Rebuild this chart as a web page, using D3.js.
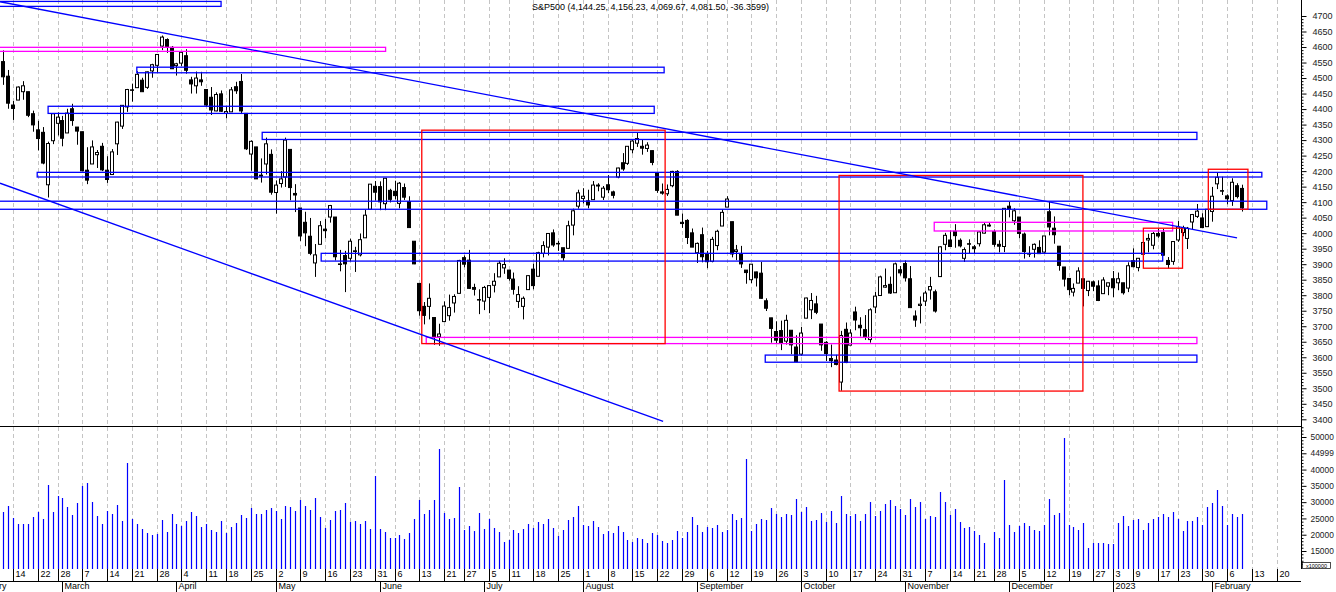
<!DOCTYPE html>
<html>
<head>
<meta charset="utf-8">
<script src="https://cdn.jsdelivr.net/npm/d3@7"></script>
<style>
  body { margin: 0; background: #fff; }
  svg { display: block; font-family: "Liberation Sans", Arial, sans-serif; }
</style>
</head>
<body>
<svg id="chart" width="1336" height="592"></svg>
<script>
// ---- data ----
var title = "S&P500 (4,144.25, 4,156.23, 4,069.67, 4,081.50, -36.3599)";
var volumeUnit = "x100000";

// trading sessions, month by month
var tradingDays = [
  ["2022-02", [10,11,14,15,16,17,18,22,23,24,25,28]],
  ["2022-03", [1,2,3,4,7,8,9,10,11,14,15,16,17,18,21,22,23,24,25,28,29,30,31]],
  ["2022-04", [1,4,5,6,7,8,11,12,13,14,18,19,20,21,22,25,26,27,28,29]],
  ["2022-05", [2,3,4,5,6,9,10,11,12,13,16,17,18,19,20,23,24,25,26,27,31]],
  ["2022-06", [1,2,3,6,7,8,9,10,13,14,15,16,17,21,22,23,24,27,28,29,30]],
  ["2022-07", [1,5,6,7,8,11,12,13,14,15,18,19,20,21,22,25,26,27,28,29]],
  ["2022-08", [1,2,3,4,5,8,9,10,11,12,15,16,17,18,19,22,23,24,25,26,29,30,31]],
  ["2022-09", [1,2,6,7,8,9,12,13,14,15,16,19,20,21,22,23,26,27,28,29,30]],
  ["2022-10", [3,4,5,6,7,10,11,12,13,14,17,18,19,20,21,24,25,26,27,28,31]],
  ["2022-11", [1,2,3,4,7,8,9,10,11,14,15,16,17,18,21,22,23,25,28,29,30]],
  ["2022-12", [1,2,5,6,7,8,9,12,13,14,15,16,19,20,21,22,23,27,28,29,30]],
  ["2023-01", [3,4,5,6,9,10,11,12,13,17,18,19,20,23,24,25,26,27,30,31]],
  ["2023-02", [1,2,3,6,7,8,9]]
];

// [open, high, low, close] per session
var ohlc = [
  // 2022-02
  [4553,4589,4478,4504],[4506,4526,4401,4419],[4413,4426,4365,4402],[4429,4473,4429,4471],[4456,4490,4430,4475],[4456,4456,4374,4380],[4385,4395,4327,4349],[4333,4362,4267,4305],[4325,4342,4222,4226],[4156,4295,4115,4289],[4298,4385,4287,4385],[4354,4389,4315,4374],
  // 2022-03
  [4363,4378,4280,4306],[4323,4401,4323,4387],[4401,4417,4346,4363],[4342,4342,4285,4329],[4327,4327,4200,4201],[4203,4277,4158,4171],[4223,4299,4223,4278],[4253,4268,4210,4260],[4280,4291,4200,4204],[4203,4248,4162,4173],[4189,4271,4188,4262],[4288,4359,4252,4358],[4345,4413,4336,4412],[4407,4465,4391,4463],[4462,4482,4424,4461],[4469,4522,4469,4512],[4493,4501,4456,4456],[4470,4521,4465,4520],[4523,4546,4501,4543],[4541,4576,4518,4576],[4603,4637,4590,4632],[4624,4628,4581,4602],[4599,4603,4530,4530],
  // 2022-04
  [4540,4549,4508,4546],[4548,4584,4539,4583],[4572,4593,4514,4525],[4494,4504,4450,4481],[4475,4521,4450,4500],[4494,4520,4475,4488],[4463,4464,4408,4413],[4438,4471,4381,4397],[4394,4454,4393,4447],[4449,4460,4391,4393],[4386,4410,4370,4392],[4391,4471,4391,4462],[4472,4488,4449,4459],[4489,4513,4384,4394],[4386,4386,4268,4272],[4255,4299,4201,4296],[4278,4278,4175,4175],[4187,4241,4163,4184],[4223,4308,4189,4288],[4254,4270,4124,4132],
  // 2022-05
  [4131,4170,4063,4155],[4160,4200,4147,4175],[4181,4308,4149,4300],[4270,4270,4106,4147],[4128,4158,4068,4123],[4081,4081,3975,3991],[4035,4069,3958,4001],[3990,4049,3929,3935],[3904,3965,3859,3930],[3964,4039,3964,4024],[4013,4046,3984,4008],[4052,4091,4034,4089],[4052,4052,3912,3924],[3899,3946,3877,3901],[3928,3943,3810,3901],[3919,3982,3909,3974],[3943,3956,3875,3941],[3930,3999,3925,3979],[3985,4075,3985,4058],[4077,4158,4077,4158],[4151,4168,4105,4132],
  // 2022-06
  [4150,4167,4074,4101],[4095,4178,4074,4177],[4138,4143,4099,4109],[4135,4169,4109,4121],[4096,4165,4080,4161],[4147,4160,4107,4116],[4102,4119,4017,4018],[3974,3974,3900,3901],[3838,3838,3734,3750],[3764,3778,3706,3735],[3764,3838,3722,3790],[3728,3728,3640,3667],[3666,3708,3637,3675],[3715,3780,3715,3765],[3734,3802,3718,3760],[3775,3803,3744,3796],[3806,3914,3806,3912],[3921,3928,3890,3900],[3913,3946,3820,3822],[3825,3837,3799,3819],[3786,3819,3739,3785],
  // 2022-07
  [3781,3830,3752,3825],[3793,3832,3742,3831],[3832,3871,3809,3845],[3859,3911,3859,3903],[3888,3919,3869,3899],[3881,3881,3847,3854],[3852,3873,3802,3819],[3780,3829,3759,3802],[3764,3796,3722,3790],[3818,3864,3817,3863],[3884,3902,3819,3831],[3861,3940,3861,3937],[3935,3974,3922,3960],[3955,3999,3928,3999],[4001,4012,3956,3962],[3966,3975,3943,3967],[3953,3953,3911,3921],[3951,4040,3951,4024],[4026,4079,3993,4072],[4087,4140,4079,4130],
  // 2022-08
  [4112,4145,4096,4119],[4104,4140,4080,4091],[4108,4168,4108,4155],[4155,4161,4135,4152],[4116,4152,4107,4145],[4156,4187,4129,4140],[4133,4137,4112,4122],[4181,4211,4177,4210],[4227,4258,4201,4207],[4225,4280,4220,4280],[4269,4302,4257,4297],[4290,4325,4278,4305],[4280,4302,4253,4274],[4273,4293,4262,4284],[4266,4266,4219,4228],[4195,4195,4130,4138],[4133,4160,4124,4129],[4127,4157,4120,4141],[4153,4201,4148,4199],[4199,4203,4058,4058],[4035,4063,4017,4031],[4041,4045,3965,3986],[4001,4015,3955,3955],
  // 2022-09
  [3937,3970,3904,3967],[3995,4018,3906,3924],[3931,3943,3887,3908],[3909,3988,3906,3980],[3960,4011,3945,4006],[4023,4077,4023,4067],[4084,4119,4084,4110],[4037,4037,3922,3933],[3941,3962,3913,3946],[3932,3959,3888,3901],[3881,3881,3837,3873],[3850,3900,3839,3900],[3875,3876,3828,3856],[3871,3907,3789,3790],[3782,3790,3749,3758],[3727,3727,3647,3693],[3683,3716,3645,3655],[3686,3718,3623,3647],[3652,3737,3641,3719],[3687,3687,3610,3640],[3633,3671,3584,3586],
  // 2022-10
  [3610,3698,3605,3678],[3726,3792,3726,3791],[3753,3807,3723,3783],[3772,3798,3739,3745],[3707,3707,3621,3640],[3648,3652,3588,3612],[3596,3641,3568,3589],[3591,3608,3574,3577],[3520,3685,3492,3670],[3690,3712,3581,3583],[3639,3690,3639,3678],[3746,3763,3687,3720],[3703,3729,3667,3695],[3689,3736,3656,3666],[3657,3758,3647,3753],[3762,3811,3742,3797],[3799,3863,3799,3859],[3826,3886,3824,3831],[3835,3860,3804,3807],[3808,3905,3808,3901],[3882,3894,3863,3872],
  // 2022-11
  [3902,3912,3844,3856],[3853,3894,3759,3760],[3733,3751,3698,3720],[3767,3796,3709,3771],[3781,3814,3765,3807],[3817,3859,3786,3828],[3811,3818,3744,3749],[3860,3958,3860,3956],[3964,4001,3945,3993],[3978,4009,3956,3957],[4006,4029,3953,3992],[3977,3983,3954,3959],[3919,3954,3907,3947],[3966,3980,3936,3965],[3956,3962,3933,3950],[3966,4006,3957,4004],[4000,4034,3999,4027],[4023,4034,4021,4026],[4005,4012,3956,3964],[3964,3977,3938,3958],[3957,4080,3939,4080],
  // 2022-12
  [4087,4101,4051,4077],[4040,4080,4027,4072],[4052,4052,3984,3999],[3997,4002,3918,3941],[3933,3958,3923,3934],[3948,3967,3921,3964],[3954,3977,3933,3934],[3939,3991,3935,3991],[4069,4101,3993,4020],[4016,4054,3966,3995],[3958,3958,3879,3896],[3891,3891,3828,3852],[3854,3855,3800,3818],[3810,3838,3796,3822],[3839,3890,3839,3878],[3853,3853,3764,3822],[3815,3846,3797,3845],[3843,3847,3813,3829],[3830,3848,3781,3783],[3805,3858,3805,3849],[3829,3840,3800,3840],
  // 2023-01
  [3853,3878,3794,3824],[3840,3873,3816,3853],[3840,3840,3802,3808],[3823,3906,3810,3895],[3911,3951,3890,3892],[3889,3920,3877,3919],[3932,3970,3929,3970],[3978,3998,3938,3983],[3961,4004,3948,3999],[3999,4015,3985,3991],[4002,4014,3927,3929],[3912,3923,3886,3899],[3909,3973,3898,3973],[3978,4039,3972,4020],[4002,4024,3990,4017],[3983,4020,3949,4016],[4036,4062,4013,4060],[4054,4094,4049,4071],[4049,4064,4016,4018],[4021,4077,4020,4077],
  // 2023-02
  [4070,4149,4037,4119],[4159,4195,4142,4180],[4137,4182,4123,4136],[4120,4125,4093,4111],[4105,4177,4088,4164],[4153,4161,4112,4118],[4144.25,4156.23,4069.67,4081.5]
];

// volume per session (x100000)
var volume = [
  26970,28810,25130,23290,23290,23290,25440,26970,24820,35260,
  26970,31880,31270,28510,26050,29740,34960,35880,30040,25740,
  23290,27280,26360,29120,24210,42020,24820,23290,21750,20520,
  19910,20220,24520,20830,26360,23290,22670,24210,26970,25740,
  22370,23290,21440,20830,24210,20520,22370,23590,26050,25130,
  28200,26360,26360,27590,28200,27280,24820,28810,28510,27280,
  30660,28810,27590,31270,25440,22060,24520,27280,27590,29740,
  23900,24210,23290,24210,21750,38030,21750,20830,18990,18990,
  19910,18680,20520,24820,30660,26360,27590,30660,46320,26660,
  24820,25130,34650,21440,22670,21130,26660,21750,24820,22060,
  20830,17760,18370,21440,20520,21750,23290,22060,23900,23290,
  24820,22060,19600,21440,24520,25440,28810,22980,22670,24210,
  22370,20210,21130,20520,22670,20830,18370,17760,18990,18680,
  17450,20520,19910,18070,17450,18370,21140,18990,20830,25440,
  22980,20830,22370,22060,22980,20830,21440,26360,24520,25130,
  43240,21140,23290,24820,24520,28200,26360,25440,26360,26050,
  30960,26970,28510,24210,24520,26660,23900,27280,23590,31880,
  26360,25740,26360,24210,26360,30040,25740,27280,29430,30660,
  28810,27890,26050,30960,28510,30040,24820,25740,25440,33110,
  30040,26050,27890,23900,22060,22370,21140,19910,17450,9000,
  20830,18990,36800,22980,20830,22670,23590,22670,21440,21140,
  22980,30960,26050,26660,49690,22980,22370,21440,23590,15920,
  17450,17450,17450,17150,17150,23590,25740,22670,24520,24820,
  21440,23590,24820,25440,26360,25440,26970,24820,21140,24210,
  24210,25440,22980,28510,29740,33730,28810,22980,26360,25440,26360
];

// axis ticks
var priceTicks = [3400,3450,3500,3550,3600,3650,3700,3750,3800,3850,3900,3950,4000,4050,4100,4150,4200,4250,4300,4350,4400,4450,4500,4550,4600,4650,4700];
var volumeTicks = [15000,20000,25000,30000,35000,40000,45000,50000];
var volumeTickLabels = ["15000","20000","25000","30000","35000","40000","44999","50000"];
var monthNames = ["January","February","March","April","May","June","July","August","September","October","November","December"];

// drawings on the price panel: [from bar, to bar, upper price, lower price]
var blueBoxes = [
  [-5, 44, 4747, 4731],
  [27.0, 133.4, 4535, 4517],
  [9.1, 131.4, 4409, 4386],
  [52.3, 240.9, 4325, 4302],
  [6.9, 254, 4196, 4181],
  [-5, 255, 4103, 4077],
  [64.2, 234.0, 3935, 3910],
  [153.8, 240.9, 3607, 3584]
];
var magentaBoxes = [
  [-5, 77.2, 4599, 4586],
  [85.4, 240.9, 3664, 3644],
  [187.9, 236.0, 4035, 4007]
];
var redBoxes = [
  [84.5, 133.6, 4332, 3644],
  [168.7, 217.9, 4186, 3491],
  [230.1, 238.0, 4016, 3887],
  [243.2, 251.2, 4206, 4077]
];
// trend lines: [bar, price, bar, price]
var blueLines = [
  [-0.6, 4746, 249.0, 3985],
  [-0.6, 4161, 133.2, 3393]
];

// ---- layout ----
var plotRight = 1301, priceBottom = 426, volBottom = 569, dateRowBottom = 581;

var svg = d3.select("#chart");

var x = d3.scaleLinear().domain([0, 250]).range([3, 1242]);
var yPrice = d3.scaleLinear().domain([3400, 4700]).range([419.3, 16]);
var yVol = d3.scaleLinear().domain([15000, 50000]).range([551, 437]);
function px(i) { return Math.round(x(i)); }

// sessions as dates, plus empty future weekdays on the right
var dates = [];
tradingDays.forEach(function (m) {
  var ym = m[0].split("-").map(Number);
  m[1].forEach(function (d) { dates.push(new Date(ym[0], ym[1] - 1, d)); });
});
var slots = dates.slice();
var next = new Date(dates[dates.length - 1]);
while (slots.length < 258) {
  next = new Date(next); next.setDate(next.getDate() + 1);
  if (next.getDay() % 6 !== 0) slots.push(next);
}

var weekIdx = [], monthIdx = [];
for (var i = 1; i < slots.length; i++) {
  if (slots[i].getDay() < slots[i - 1].getDay()) weekIdx.push(i);
  if (slots[i].getMonth() !== slots[i - 1].getMonth()) monthIdx.push(i);
}
// start of the month the chart opens in (off to the left)
var lead = 0;
for (var d0 = new Date(dates[0].getFullYear(), dates[0].getMonth(), 1); d0 < dates[0]; d0.setDate(d0.getDate() + 1)) {
  if (d0.getDay() % 6 !== 0) lead++;
}
var monthLabel = {};
monthLabel[-lead] = monthNames[dates[0].getMonth()];
monthIdx.forEach(function (i) {
  monthLabel[i] = slots[i].getMonth() === 0 ? String(slots[i].getFullYear()) : monthNames[slots[i].getMonth()];
});
monthIdx.unshift(-lead);

var defs = svg.append("defs");
defs.append("clipPath").attr("id", "clipPrice")
  .append("rect").attr("x", 0).attr("y", 0).attr("width", plotRight).attr("height", priceBottom);
defs.append("clipPath").attr("id", "clipVol")
  .append("rect").attr("x", 0).attr("y", priceBottom).attr("width", plotRight).attr("height", volBottom - priceBottom);

// weekly dashed grid
svg.append("g").selectAll("line")
  .data(weekIdx)
  .enter().append("line")
  .attr("x1", function (i) { return px(i) + 0.5; })
  .attr("x2", function (i) { return px(i) + 0.5; })
  .attr("y1", 0).attr("y2", volBottom)
  .attr("stroke", "#c4c4c4")
  .attr("stroke-dasharray", "4,3");

// title
svg.append("text")
  .attr("x", plotRight / 2).attr("y", 10)
  .attr("text-anchor", "middle")
  .attr("font-size", 9)
  .attr("fill", "#000")
  .text(title);

// candles
var candles = svg.append("g").attr("clip-path", "url(#clipPrice)")
  .selectAll("g").data(ohlc).enter().append("g");

candles.append("line")
  .attr("x1", function (d, i) { return px(i) + 0.5; })
  .attr("x2", function (d, i) { return px(i) + 0.5; })
  .attr("y1", function (d) { return yPrice(d[1]); })
  .attr("y2", function (d) { return yPrice(d[2]); })
  .attr("stroke", "#000");

candles.append("rect")
  .attr("x", function (d, i) { return px(i) - 1.5; })
  .attr("width", 3)
  .attr("y", function (d) { return yPrice(Math.max(d[0], d[3])); })
  .attr("height", function (d) { return Math.max(0.5, Math.abs(yPrice(d[0]) - yPrice(d[3]))); })
  .attr("fill", function (d) { return d[3] >= d[0] ? "#fff" : "#000"; })
  .attr("stroke", "#000");

// drawings
var draw = svg.append("g").attr("clip-path", "url(#clipPrice)").attr("fill", "none");
function boxes(list, color) {
  draw.append("g").selectAll("rect").data(list).enter().append("rect")
    .attr("x", function (b) { return x(b[0]); })
    .attr("width", function (b) { return x(b[1]) - x(b[0]); })
    .attr("y", function (b) { return yPrice(b[2]); })
    .attr("height", function (b) { return yPrice(b[3]) - yPrice(b[2]); })
    .attr("stroke", color)
    .attr("stroke-width", 1.3);
}
boxes(blueBoxes, "#0000ff");
boxes(magentaBoxes, "#ff00ff");
boxes(redBoxes, "#ff0000");
draw.append("g").selectAll("line").data(blueLines).enter().append("line")
  .attr("x1", function (l) { return x(l[0]); })
  .attr("y1", function (l) { return yPrice(l[1]); })
  .attr("x2", function (l) { return x(l[2]); })
  .attr("y2", function (l) { return yPrice(l[3]); })
  .attr("stroke", "#0000ff")
  .attr("stroke-width", 1.3);

// volume
svg.append("g").attr("clip-path", "url(#clipVol)")
  .selectAll("line").data(volume).enter().append("line")
  .attr("x1", function (v, i) { return px(i) + 0.5; })
  .attr("x2", function (v, i) { return px(i) + 0.5; })
  .attr("y1", function (v) { return Math.min(volBottom, yVol(v)); })
  .attr("y2", volBottom)
  .attr("stroke", "#0000ff")
  .attr("stroke-width", 1.2);

// frame lines
svg.append("line").attr("x1", 0).attr("x2", plotRight).attr("y1", priceBottom + 0.5).attr("y2", priceBottom + 0.5).attr("stroke", "#000");
svg.append("line").attr("x1", 0).attr("x2", plotRight).attr("y1", dateRowBottom + 0.5).attr("y2", dateRowBottom + 0.5).attr("stroke", "#000");
svg.append("line").attr("x1", plotRight + 0.5).attr("x2", plotRight + 0.5).attr("y1", 0).attr("y2", volBottom).attr("stroke", "#000");

// right price axis
function styleAxis(g, size) {
  g.select(".domain").remove();
  g.attr("font-family", null).attr("font-size", size || 9);
  g.selectAll("text").attr("fill", "#222");
}
var priceMinor = yPrice.ticks(140).filter(function (p) { return p % 50 !== 0; });
svg.append("g").attr("transform", "translate(" + (plotRight + 0.5) + ",0)")
  .call(d3.axisRight(yPrice).tickValues(priceMinor).tickSize(2).tickFormat(""))
  .call(styleAxis);
svg.append("g").attr("transform", "translate(" + (plotRight + 0.5) + ",0)")
  .call(d3.axisRight(yPrice).tickValues(priceTicks).tickSize(5).tickPadding(6).tickFormat(d3.format("d")))
  .call(styleAxis);

// right volume axis
var volMinor = d3.range(11000, 53001, 1000).filter(function (v) { return v % 5000 !== 0; });
svg.append("g").attr("transform", "translate(" + (plotRight + 0.5) + ",0)")
  .call(d3.axisRight(yVol).tickValues(volMinor).tickSize(2).tickFormat(""))
  .call(styleAxis);
svg.append("g").attr("transform", "translate(" + (plotRight + 0.5) + ",0)")
  .call(d3.axisRight(yVol).tickValues(volumeTicks).tickSize(5).tickPadding(4)
    .tickFormat(function (v, k) { return volumeTickLabels[k]; }))
  .call(styleAxis, 8.4);

// volume unit box
svg.append("rect").attr("x", plotRight + 1.5).attr("y", 562.5).attr("width", 28).attr("height", 6)
  .attr("fill", "#fff").attr("stroke", "#000").attr("stroke-width", 0.7);
svg.append("text").attr("x", plotRight + 15.5).attr("y", 567.6).attr("text-anchor", "middle")
  .attr("font-size", 5.5).attr("fill", "#000").text(volumeUnit);

// weekly day labels
var dayAxis = svg.append("g").attr("transform", "translate(0," + volBottom + ")")
  .call(d3.axisBottom(x).tickValues(weekIdx).tickSize(12).tickSizeOuter(0)
    .tickFormat(function (i) { return slots[i].getDate(); }));
dayAxis.selectAll(".tick").attr("transform", function (i) { return "translate(" + (px(i) + 0.5) + ",0)"; });
dayAxis.call(styleAxis);
dayAxis.selectAll("text").attr("text-anchor", "start").attr("x", 2).attr("y", 2).attr("fill", "#000");

// month labels
var monthAxis = svg.append("g").attr("transform", "translate(0," + dateRowBottom + ")")
  .call(d3.axisBottom(x).tickValues(monthIdx).tickSize(11).tickSizeOuter(0)
    .tickFormat(function (i) { return monthLabel[i]; }));
monthAxis.selectAll(".tick").attr("transform", function (i) { return "translate(" + (px(i) + 0.5) + ",0)"; });
monthAxis.call(styleAxis);
monthAxis.selectAll("text").attr("text-anchor", "start").attr("x", 2).attr("y", 2).attr("fill", "#000");
</script>
</body>
</html>
